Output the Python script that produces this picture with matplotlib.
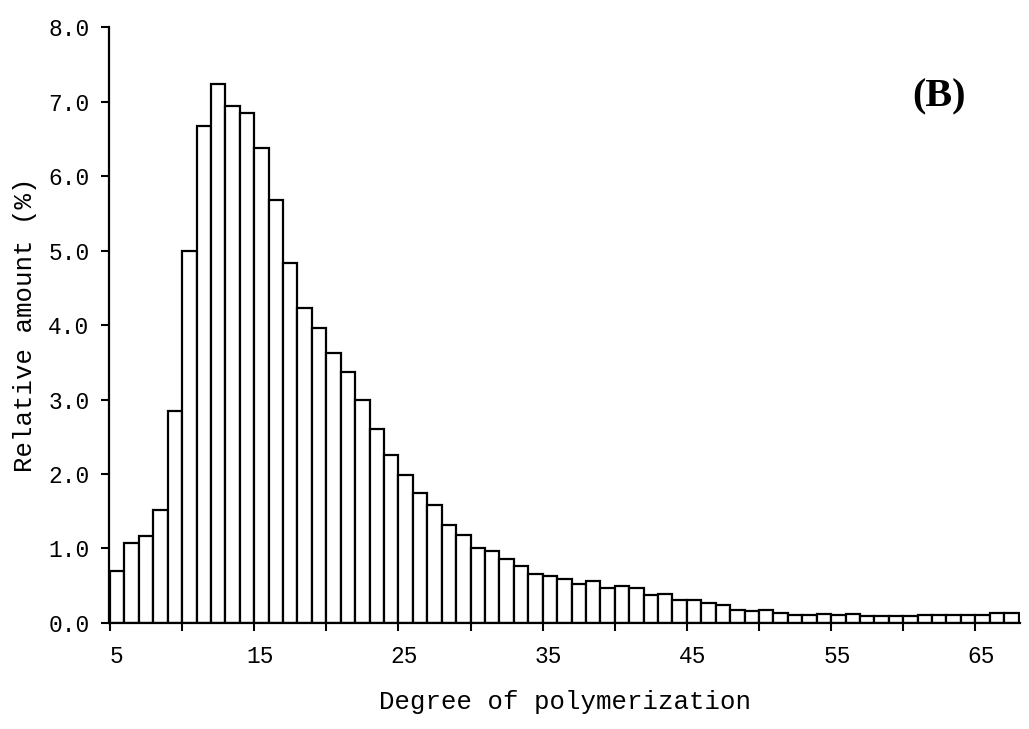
import numpy as np
import matplotlib
matplotlib.use("Agg")
import matplotlib.pyplot as plt
from matplotlib.transforms import ScaledTranslation

# Degree of polymerization (DP 5 .. 67) and relative amount (%)
dp = list(range(5, 68))
amount = [0.70, 1.07, 1.17, 1.51, 2.85, 5.00, 6.67, 7.24, 6.94, 6.85,
          6.38, 5.68, 4.84, 4.23, 3.96, 3.62, 3.37, 2.99, 2.60, 2.25,
          1.98, 1.74, 1.58, 1.31, 1.18, 1.01, 0.96, 0.86, 0.76, 0.65,
          0.63, 0.59, 0.52, 0.56, 0.47, 0.50, 0.47, 0.37, 0.39, 0.31,
          0.31, 0.26, 0.24, 0.17, 0.16, 0.17, 0.13, 0.10, 0.10, 0.12,
          0.10, 0.12, 0.09, 0.09, 0.09, 0.09, 0.11, 0.11, 0.11, 0.11,
          0.11, 0.13, 0.13]

x_ticks = list(range(5, 70, 5))
x_labels = [str(t) if (t - 5) % 10 == 0 else "" for t in x_ticks]
y_ticks = [0, 1, 2, 3, 4, 5, 6, 7, 8]
y_labels = ["%.1f" % v for v in y_ticks]

mono = "Liberation Mono"

fig = plt.figure(figsize=(10.29, 7.29), dpi=100)
ax = fig.add_axes([0.1059, 0.1458, 0.8854, 0.8165])

ax.bar(dp, amount, width=1.0, align="edge", color="white",
       edgecolor="black", linewidth=1.6)

ax.set_xlim(4.93, 68.1)
ax.set_ylim(0, 8)

ax.spines["top"].set_visible(False)
ax.spines["right"].set_visible(False)
ax.spines["left"].set_linewidth(1.6)
ax.spines["bottom"].set_linewidth(1.6)

ax.set_xticks(x_ticks)
ax.set_xticklabels(x_labels, fontfamily=mono, fontsize=16.5)
ax.set_yticks(y_ticks)
ax.set_yticklabels(y_labels, fontfamily=mono, fontsize=16.5)
ax.tick_params(axis="x", direction="out", length=6, width=1.5, pad=10)
ax.tick_params(axis="y", direction="out", length=6, width=1.5, pad=8)

# labels in the original sit a little right of their ticks
offset = ScaledTranslation(6 / 100, 0, fig.dpi_scale_trans)
for lab in ax.get_xticklabels():
    lab.set_transform(lab.get_transform() + offset)

ax.set_xlabel("Degree of polymerization", fontfamily=mono, fontsize=18.5,
              labelpad=16)
ax.set_ylabel("Relative amount (%)", fontfamily=mono, fontsize=18.5,
              labelpad=8)

fig.text(0.913, 0.867, "(B)", fontfamily="Liberation Serif",
         fontweight="bold", fontsize=29, ha="center", va="center")

fig.savefig("out.png", dpi=100)
